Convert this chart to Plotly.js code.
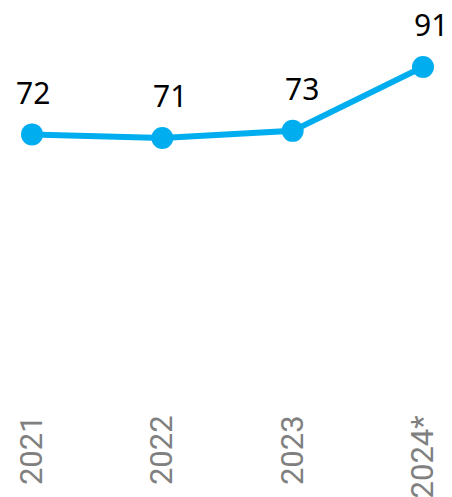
<!DOCTYPE html>
<html>
<head>
<meta charset="utf-8">
<script src="https://cdn.plot.ly/plotly-3.0.1.min.js"></script>
<style>html,body{margin:0;padding:0;background:#fff;}#chart{width:452px;height:497px;}</style>
</head>
<body>
<div id="chart"></div>
<script>
const years = ["2021", "2022", "2023", "2024*"];
const values = [72, 71, 73, 91];

const lineColor = "#00AEEF";
const labelXShift = [1, 8, 9, 8];

const trace = {
  x: years,
  y: values,
  type: "scatter",
  mode: "lines+markers",
  line: {color: lineColor, width: 6},
  marker: {color: lineColor, size: 22},
  cliponaxis: false,
  hoverinfo: "skip"
};

const annotations = years.map((yr, i) => ({
  x: i, y: values[i], xref: "x", yref: "y",
  text: String(values[i]), showarrow: false,
  yshift: 42, xshift: labelXShift[i],
  font: {family: "Noto Sans, Open Sans, sans-serif", size: 30, color: "#000"}
}));

const layout = {
  width: 452, height: 497,
  margin: {l: 32, r: 29, t: 35, b: 107},
  paper_bgcolor: "#fff", plot_bgcolor: "#fff",
  showlegend: false,
  xaxis: {
    type: "category",
    range: [0, 3],
    showgrid: false, zeroline: false, showline: false,
    tickangle: -90,
    ticks: "outside", ticklen: 12, tickcolor: "rgba(0,0,0,0)",
    tickfont: {family: "Roboto, Liberation Sans, sans-serif", size: 31, color: "#808080"}
  },
  yaxis: {
    range: [0, 100],
    visible: false, showgrid: false, zeroline: false
  },
  annotations: annotations
};

Plotly.newPlot("chart", [trace], layout, {displayModeBar: false, staticPlot: true});
</script>
</body>
</html>
